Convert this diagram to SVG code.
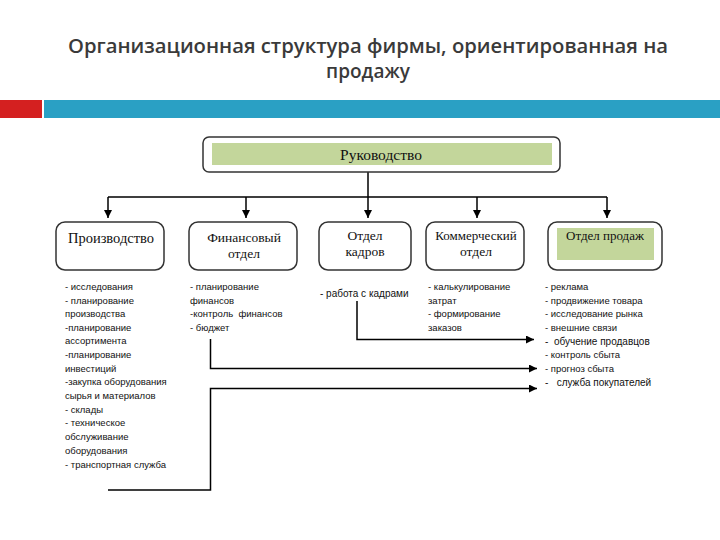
<svg xmlns="http://www.w3.org/2000/svg" width="720" height="540" viewBox="0 0 720 540">
<defs>
<marker id="ah" viewBox="0 0 10 10" refX="10" refY="5" markerWidth="9" markerHeight="8" markerUnits="userSpaceOnUse" orient="auto">
<path d="M0,0 L10,5 L0,10 Z" fill="#000"/>
</marker>
</defs>
<style>
.title{font-family:"Open Sans","Liberation Sans",sans-serif;font-size:19px;fill:#3a3a3a;text-anchor:middle;font-weight:600}
.box{fill:#fff;stroke:#333;stroke-width:1.5}
.green{fill:#c3d69b}
.bt{font-family:"Liberation Serif","DejaVu Serif",serif;font-size:13.5px;fill:#111;text-anchor:middle}
.lt{font-family:"Liberation Sans","Noto Sans",sans-serif;font-size:9.5px;fill:#111;white-space:pre}
.ln{fill:none;stroke:#000;stroke-width:1.5}
</style>
<rect width="720" height="540" fill="#fff"/>
<g id="title">
<text class="title" x="368" y="53" textLength="600" lengthAdjust="spacingAndGlyphs">Организационная структура фирмы, ориентированная на</text>
<text class="title" x="368" y="78">продажу</text>
<rect x="0" y="100" width="42" height="18" fill="#d42020"/>
<rect x="44" y="100" width="676" height="18" fill="#2aa0c4"/>
</g>
<g id="connectors">
<path class="ln" d="M368,172 V197 M108,197 H607"/>
<path class="ln" d="M108,197 V218" marker-end="url(#ah)"/>
<path class="ln" d="M246,197 V218" marker-end="url(#ah)"/>
<path class="ln" d="M368,197 V218" marker-end="url(#ah)"/>
<path class="ln" d="M477,197 V218" marker-end="url(#ah)"/>
<path class="ln" d="M607,197 V218" marker-end="url(#ah)"/>
<path class="ln" d="M357,301 V339.5 H534" marker-end="url(#ah)"/>
<path class="ln" d="M210.5,339 V368.5 H537" marker-end="url(#ah)"/>
<path class="ln" d="M108,490 H210.5 V388.5 H537" marker-end="url(#ah)"/>
</g>
<g id="rukovodstvo">
<rect class="box" x="203" y="137" width="357" height="35" rx="6"/>
<rect class="green" x="212" y="143" width="340" height="22"/>
<text class="bt" x="381" y="160" style="font-size:15.5px">Руководство</text>
</g>
<g id="proizvodstvo">
<rect class="box" x="56" y="222" width="108" height="48" rx="9"/>
<text class="bt" x="111" y="243" style="font-size:14.5px">Производство</text>
<text class="lt" x="65" y="290">- исследования</text>
<text class="lt" x="65" y="304">- планирование</text>
<text class="lt" x="65" y="317">производства</text>
<text class="lt" x="65" y="331">-планирование</text>
<text class="lt" x="65" y="344">ассортимента</text>
<text class="lt" x="65" y="358">-планирование</text>
<text class="lt" x="65" y="372">инвестиций</text>
<text class="lt" x="65" y="385">-закупка оборудования</text>
<text class="lt" x="65" y="399">сырья и материалов</text>
<text class="lt" x="65" y="413">- склады</text>
<text class="lt" x="65" y="426">- техническое</text>
<text class="lt" x="65" y="440">обслуживание</text>
<text class="lt" x="65" y="454">оборудования</text>
<text class="lt" x="65" y="468">- транспортная служба</text>
</g>
<g id="finansy">
<rect class="box" x="189" y="222" width="108" height="48" rx="9"/>
<text class="bt" x="244" y="242">Финансовый</text>
<text class="bt" x="244" y="258">отдел</text>
<text class="lt" x="190" y="290">- планирование</text>
<text class="lt" x="190" y="304">финансов</text>
<text class="lt" x="190" y="317">-контроль  финансов</text>
<text class="lt" x="190" y="331">- бюджет</text>
</g>
<g id="kadry">
<rect class="box" x="319" y="222" width="92" height="48" rx="9"/>
<text class="bt" x="365" y="240">Отдел</text>
<text class="bt" x="365" y="256">кадров</text>
<text class="lt" x="320" y="297" style="font-size:10px">- работа с кадрами</text>
</g>
<g id="kommerch">
<rect class="box" x="426" y="222" width="98" height="48" rx="9"/>
<text class="bt" x="476" y="240" style="font-size:13px">Коммерческий</text>
<text class="bt" x="476" y="256">отдел</text>
<text class="lt" x="428" y="290">- калькулирование</text>
<text class="lt" x="428" y="304">затрат</text>
<text class="lt" x="428" y="317">- формирование</text>
<text class="lt" x="428" y="331">заказов</text>
</g>
<g id="prodazhi">
<rect class="box" x="548" y="222" width="114" height="48" rx="9"/>
<rect class="green" x="557" y="228" width="97" height="32"/>
<text class="bt" x="605" y="240" style="font-size:13px">Отдел продаж</text>
<text class="lt" x="545" y="290">- реклама</text>
<text class="lt" x="545" y="304">- продвижение товара</text>
<text class="lt" x="545" y="317">- исследование рынка</text>
<text class="lt" x="545" y="331">- внешние связи</text>
<text class="lt" x="545" y="345" style="font-size:10px">-  обучение продавцов</text>
<text class="lt" x="545" y="358">- контроль сбыта</text>
<text class="lt" x="545" y="372">- прогноз сбыта</text>
<text class="lt" x="545" y="386" style="font-size:10px">-   служба покупателей</text>
</g>
</svg>
